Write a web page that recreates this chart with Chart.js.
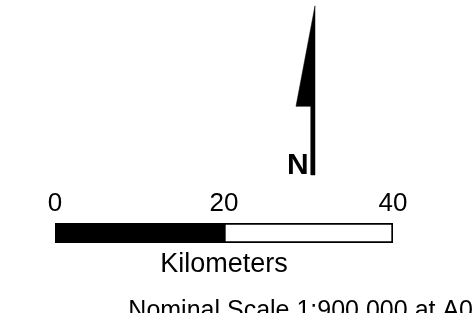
<!DOCTYPE html>
<html>
<head>
<meta charset="utf-8">
<script src="https://cdn.jsdelivr.net/npm/chart.js@4.4.1/dist/chart.umd.min.js"></script>
<style>
    html, body { margin: 0; padding: 0; background: #fff; overflow: hidden; }
    #wrap { position: relative; width: 476px; height: 313px; overflow: hidden; }
    canvas { position: absolute; left: 0; }
    #northChart { top: 0; }
    #scaleChart { top: 180px; }
</style>
</head>
<body>
<div id="wrap">
    <canvas id="northChart" width="476" height="190"></canvas>
    <canvas id="scaleChart" width="476" height="150"></canvas>
</div>
<script>
// scale bar data (km)
const segmentLabels = ['0 - 20 km', '20 - 40 km'];
const segmentLengths = [20, 20];
const segmentColors = ['#000000', '#ffffff'];
const tickValues = [0, 20, 40];
const unitLabel = 'Kilometers';
const scaleNote = 'Nominal Scale 1:900,000 at A0';

// north arrow outline, in km on the same scale as the bar
const arrowX = [30.77, 28.52, 30.30, 30.30, 30.77, 30.77];
const arrowY = [21.80, 9.90, 9.90, 1.78, 1.78, 21.80];
const northLabel = 'N';
const northPos = { x: 28.75, y: 1.9 };

const fontFamily = '"Liberation Sans", Arial, Helvetica, sans-serif';

Chart.defaults.animation = false;
Chart.defaults.color = '#000';
Chart.defaults.font.family = fontFamily;

// draws the N letter next to the arrow stem
const northLetter = {
    id: 'northLetter',
    afterDatasetsDraw(chart) {
        const ctx = chart.ctx;
        const x = chart.scales.x.getPixelForValue(northPos.x);
        const y = chart.scales.y.getPixelForValue(northPos.y);
        ctx.save();
        ctx.font = 'bold 30px ' + fontFamily;
        ctx.fillStyle = '#000';
        ctx.textAlign = 'center';
        ctx.textBaseline = 'alphabetic';
        ctx.fillText(northLabel, x, y);
        ctx.restore();
    }
};

const northChart = new Chart(document.getElementById('northChart'), {
    type: 'line',
    data: {
        datasets: [{
            label: 'North arrow',
            data: arrowX.map((x, i) => ({ x: x, y: arrowY[i] })),
            borderColor: '#000',
            backgroundColor: '#000',
            borderWidth: 0.5,
            fill: 'shape',
            pointRadius: 0,
            tension: 0,
            clip: false
        }]
    },
    options: {
        responsive: false,
        layout: { padding: { left: 55, right: 83, top: 0, bottom: 0 } },
        plugins: { legend: { display: false }, tooltip: { enabled: false } },
        scales: {
            x: { type: 'linear', min: 0, max: 40, display: false },
            y: { type: 'linear', min: 0, max: 22.49, display: false }
        }
    },
    plugins: [northLetter]
});

const scaleChart = new Chart(document.getElementById('scaleChart'), {
    type: 'bar',
    data: {
        labels: [unitLabel],
        datasets: segmentLengths.map((v, i) => ({
            label: segmentLabels[i],
            data: [v],
            backgroundColor: segmentColors[i],
            borderColor: '#000',
            borderWidth: 2,
            borderSkipped: false,
            barPercentage: 1,
            categoryPercentage: 1
        }))
    },
    options: {
        indexAxis: 'y',
        responsive: false,
        layout: { padding: { left: 0, right: 3, top: 3.8, bottom: 4 } },
        plugins: {
            legend: { display: false },
            tooltip: { enabled: false },
            title: {
                display: true,
                text: scaleNote,
                position: 'bottom',
                align: 'end',
                color: '#000',
                font: { size: 25, weight: 'normal' },
                padding: { top: 14.8, bottom: 0 }
            }
        },
        scales: {
            x: {
                type: 'linear',
                position: 'top',
                stacked: true,
                min: 0,
                max: 40,
                grid: { display: false, drawTicks: false },
                border: { display: false },
                afterBuildTicks: axis => { axis.ticks = tickValues.map(v => ({ value: v })); },
                ticks: { padding: 4, font: { size: 26 }, color: '#000' }
            },
            x2: {
                type: 'linear',
                position: 'bottom',
                grid: { display: false, drawTicks: false },
                border: { display: false },
                ticks: { display: false },
                title: {
                    display: true,
                    text: unitLabel,
                    color: '#000',
                    font: { size: 27 },
                    padding: { top: 5.8, bottom: 0 }
                }
            },
            y: {
                stacked: true,
                grid: { display: false, drawTicks: false },
                border: { display: false },
                ticks: { display: false },
                afterFit: axis => { axis.width = 55; }
            },
            yRight: {
                type: 'linear',
                position: 'right',
                grid: { display: false, drawTicks: false },
                border: { display: false },
                ticks: { display: false },
                afterFit: axis => { axis.width = 80; }
            }
        }
    }
});
</script>
</body>
</html>
